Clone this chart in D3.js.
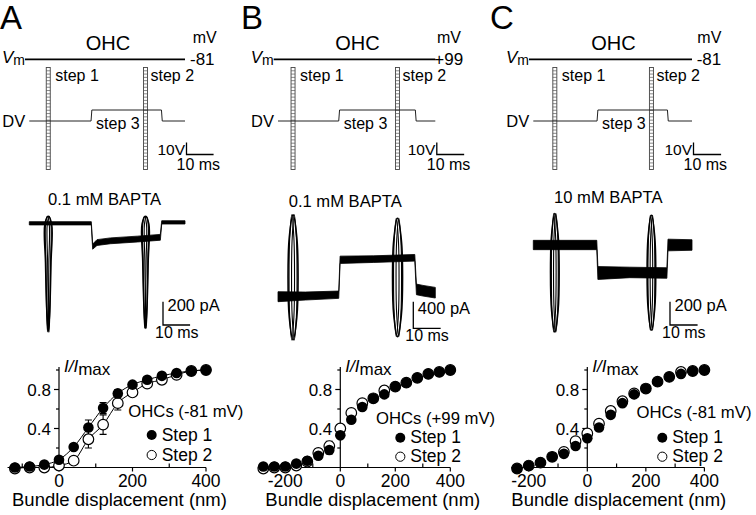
<!DOCTYPE html>
<html>
<head>
<meta charset="utf-8">
<script src="https://cdn.jsdelivr.net/npm/d3@7"></script>
<style>
  body { margin: 0; background: #fff; }
  svg { font-family: "Liberation Sans", Arial, sans-serif; }
</style>
</head>
<body>
<svg id="fig" width="756" height="515"></svg>
<script>
// ---- labels
const panelLetters = ['A', 'B', 'C'];
const holdingLabels = ['-81', '+99', '-81'];
const baptaLabels = ['0.1 mM BAPTA', '0.1 mM BAPTA', '10 mM BAPTA'];
const legendTitles = ['OHCs (-81 mV)', 'OHCs (+99 mV)', 'OHCs (-81 mV)'];
const seriesNames = ['Step 1', 'Step 2'];

// ---- protocol timing (ms): stimulus families and the step 3 pulse
const stimTimes = [[7.0, 42.9], [5.5, 43.7], [7.8, 42.8]];
const step3Times = [[22.8, 48.8], [22.2, 50.2], [23.1, 48.6]];
const sweepEnd = 57.5;

// ---- current traces: [ms, pA, noise half-band pA]
const traceA = [[0, 0, 14], [22.9, 0, 14], [23.4, -200, 22], [25, -165, 25], [30, -150, 25],
  [40, -135, 25], [48.4, -120, 25], [48.9, 8, 14], [57.5, 8, 14]];
const traceB = [[0, 0, 75], [10, 10, 60], [22.2, 30, 55], [22.7, 555, 55], [35, 565, 50],
  [50, 585, 50], [50.6, 110, 80], [53, 90, 80], [57.5, 60, 80]];
const traceC = [[0, 0, 40], [23.0, 0, 40], [23.4, -240, 55], [35, -235, 45], [48.4, -240, 45],
  [48.8, 0, 50], [57.5, 0, 45]];
// transients at step 1 / step 2: [peak pA, trough pA]
const transA = [[60, -930], [60, -900]];
const transB = [[1230, -650], [1180, -600]];
const transC = [[270, -745], [255, -730]];
const pABar = [200, 400, 200];

// ---- activation curves, I/Imax vs bundle displacement (nm)
const dispA = [-120, -80, -40, 0, 40, 80, 120, 160, 200, 240, 280, 320, 360, 400];
const step1A = [0.00, 0.01, 0.03, 0.08, 0.21, 0.41, 0.61, 0.76, 0.85, 0.90, 0.94, 0.97, 0.99, 1.00];
const step2A = [-0.01, 0.00, 0.00, 0.02, 0.07, 0.29, 0.44, 0.66, 0.77, 0.86, 0.90, 0.95, 0.99, 1.00];
const err1A = [0, 0, 0, 0.01, 0.02, 0.077, 0.055, 0.04, 0.02, 0.02, 0.01, 0.01, 0.01, 0.01];
const err2A = [0, 0, 0, 0.01, 0.02, 0.09, 0.10, 0.07, 0.04, 0.02, 0.02, 0.01, 0.01, 0.01];

const dispB = [-280, -240, -200, -160, -120, -80, -40, 0, 40, 80, 120, 160, 200, 240, 280, 320, 360, 400];
const step1B = [0.01, 0.01, 0.01, 0.04, 0.07, 0.12, 0.18, 0.33, 0.49, 0.62, 0.71, 0.75, 0.83, 0.87, 0.92, 0.96, 0.98, 1.00];
const step2B = [-0.01, 0.00, 0.00, 0.02, 0.06, 0.15, 0.22, 0.40, 0.56, 0.66, 0.71, 0.79, 0.83, 0.87, 0.92, 0.96, 0.98, 1.00];
const err1B = [0, 0, 0, 0, 0, 0.03, 0.04, 0, 0, 0, 0, 0, 0, 0, 0, 0, 0, 0];
const err2B = [0, 0, 0, 0, 0, 0.04, 0.05, 0, 0, 0, 0, 0, 0, 0, 0, 0, 0, 0];

const dispC = [-240, -200, -160, -120, -80, -40, 0, 40, 80, 120, 160, 200, 240, 280, 320, 360, 400];
const step1C = [-0.01, 0.02, 0.05, 0.11, 0.14, 0.22, 0.30, 0.41, 0.54, 0.66, 0.75, 0.81, 0.88, 0.93, 0.96, 0.99, 1.00];
const step2C = [-0.01, 0.02, 0.05, 0.11, 0.16, 0.27, 0.35, 0.45, 0.58, 0.68, 0.76, 0.81, 0.88, 0.93, 0.98, 0.99, 1.00];

const xTickLabels = [[0, 200, 400], [-200, 0, 200, 400], [-200, 0, 200, 400]];
const xTickMinor = [-100, 100, 300];
const yTickLabels = [0.4, 0.8];
const yTickMinor = [0.2, 0.6, 1.0];

// ---- layout per panel (pixels)
const layout = [
  { letterX: 0, t0: 29.3, t1: 185, mvDx: 7.7, holdDx: 5, traceY0: 223.3, pxPerPA: 0.1167, barBottom: 325,
    titleX: 48, titleY: 205, hanging: true, hw: 3.4,
    x0: 59, x400: 206, axisFrom: -140, legX: 128.3, legY: 416.7, markX: 151.7, rowY: [435, 455], axTitleX: 12 },
  { letterX: 241, t0: 278, t1: 435.3, mvDx: 1.7, holdDx: -1, traceY0: 296.7, pxPerPA: 0.0665, barBottom: 328.3,
    titleX: 288.7, titleY: 206.7, hanging: false, hw: 5,
    x0: 340.3, x400: 450.3, axisFrom: -300, legX: 376, legY: 424, markX: 400.3, rowY: [437.7, 456.7], axTitleX: 265.3 },
  { letterX: 490, t0: 533.3, t1: 692, mvDx: 5.3, holdDx: 4.7, traceY0: 245, pxPerPA: 0.1167, barBottom: 325,
    titleX: 554, titleY: 202.7, hanging: false, hw: 4.3,
    x0: 587.3, x400: 704.4, axisFrom: -260, legX: 636.5, legY: 418.3, markX: 662.3, rowY: [437.7, 456.7], axTitleX: 511.3 }
];

const traces = [traceA, traceB, traceC];
const transients = [transA, transB, transC];
const disps = [dispA, dispB, dispC];
const step1 = [step1A, step1B, step1C];
const step2 = [step2A, step2B, step2C];
const err1 = [err1A, err1B, null];
const err2 = [err2A, err2B, null];

const svg = d3.select('#fig');
const vmY = 59.3, dvY = d3.scaleLinear().domain([0, 1]).range([121, 110]);
const ladderTop = 67.5, ladderBot = 169.5;
const yI = d3.scaleLinear().domain([0, 1]).range([467.5, 370]);

function txt(g, x, y, s, size, anchor) {
  return g.append('text').attr('x', x).attr('y', y).attr('font-size', size)
    .attr('text-anchor', anchor || 'start').text(s);
}

function ladder(g, x) {
  const n = 31;
  const step = (ladderBot - ladderTop) / n;
  g.append('rect').attr('x', x - 2).attr('y', ladderTop).attr('width', 4)
    .attr('height', ladderBot - ladderTop).attr('fill', '#fff')
    .attr('stroke', '#444').attr('stroke-width', 0.9);
  g.selectAll(null).data(d3.range(1, n)).enter().append('line')
    .attr('x1', x - 2).attr('x2', x + 2)
    .attr('y1', k => ladderTop + k * step).attr('y2', k => ladderTop + k * step)
    .attr('stroke', '#555').attr('stroke-width', 0.7);
}

function transient(g, x, yTop, yBot, hw, hanging) {
  const h = yBot - yTop;
  const prof = hanging
    ? [[0, 0], [1, 0.07], [0.8, 0.4], [0.45, 0.8], [0, 1]]
    : [[0, 0], [0.75, 0.18], [1, 0.5], [0.75, 0.82], [0, 1]];
  const outline = (w, dx) => {
    const right = prof.map(p => [x + dx + p[0] * w, yTop + p[1] * h]);
    const left = prof.slice(1, -1).reverse().map(p => [x + dx - p[0] * w, yTop + p[1] * h]);
    return right.concat(left);
  };
  const line = d3.line().curve(d3.curveCatmullRomClosed.alpha(0.5));
  g.append('path').attr('d', line(outline(hw, 0)))
    .attr('fill', '#fff').attr('stroke', '#000').attr('stroke-width', 1.6);
  g.append('path').attr('d', line(outline(hw * 0.55, -hw * 0.25)))
    .attr('fill', 'none').attr('stroke', '#000').attr('stroke-width', 1.1);
  g.append('path').attr('d', line(outline(hw * 0.55, hw * 0.25)))
    .attr('fill', 'none').attr('stroke', '#000').attr('stroke-width', 1.1);
}

layout.forEach((L, i) => {
  const g = svg.append('g');
  const t = d3.scaleLinear().domain([0, sweepEnd]).range([L.t0, L.t1]);
  const msPx = t(10) - t(0);

  // --- panel letter
  txt(g, L.letterX, 29, panelLetters[i], 33);

  // --- protocol schematic
  const lineStart = L.t0 - 4.3;
  g.append('line').attr('x1', lineStart).attr('x2', L.t1).attr('y1', vmY).attr('y2', vmY)
    .attr('stroke', '#000').attr('stroke-width', 1.8);
  const vm = g.append('text').attr('x', lineStart - 23).attr('y', 63.3).attr('font-size', 17);
  vm.append('tspan').attr('font-style', 'italic').text('V');
  vm.append('tspan').attr('font-size', 14).attr('dy', 2).text('m');
  txt(g, (lineStart + L.t1) / 2 + 3, 50, 'OHC', 20, 'middle');
  txt(g, L.t1 + L.mvDx, 43, 'mV', 16);
  txt(g, L.t1 + L.holdDx, 64.5, holdingLabels[i], 17);

  const on = step3Times[i][0], off = step3Times[i][1];
  const dv = [[0, 0], [on, 0], [on + 0.3, 1], [off, 1], [off + 0.3, 0], [sweepEnd, 0]];
  txt(g, L.t0 - 27, 126.5, 'DV', 16.5);
  stimTimes[i].forEach(s => ladder(g, t(s)));
  g.append('path').attr('d', d3.line().x(d => t(d[0])).y(d => dvY(d[1]))(dv))
    .attr('fill', 'none').attr('stroke', '#222').attr('stroke-width', 1);
  txt(g, t(stimTimes[i][0]) + 7, 81, 'step 1', 16);
  txt(g, t(stimTimes[i][1]) + 5, 81, 'step 2', 16);
  txt(g, t(on) + 5, 128.5, 'step 3', 16);

  const sbx = L.t1 + 1.5;
  g.append('path').attr('d', `M${sbx},142.5V154.5H${sbx + msPx}`)
    .attr('fill', 'none').attr('stroke', '#000').attr('stroke-width', 1.3);
  txt(g, sbx - 1.5, 154.5, '10V', 15.5, 'end');
  txt(g, sbx - 10, 169.5, '10 ms', 16);

  // --- current trace
  const yP = d3.scaleLinear().domain([0, 100]).range([L.traceY0, L.traceY0 - 100 * L.pxPerPA]);
  txt(g, L.titleX, L.titleY, baptaLabels[i], 16.6);
  transients[i].forEach((tr, k) => {
    transient(g, t(stimTimes[i][k]), yP(tr[0]), yP(tr[1]), L.hw, L.hanging);
  });
  g.append('path')
    .attr('d', d3.area().x(d => t(d[0])).y0(d => yP(d[1] - d[2])).y1(d => yP(d[1] + d[2]))(traces[i]))
    .attr('fill', '#000').attr('stroke', '#000').attr('stroke-width', 0.8);

  const bx = L.t1 - 22;
  const barH = pABar[i] * L.pxPerPA;
  g.append('path').attr('d', `M${bx},${L.barBottom - barH}V${L.barBottom}H${bx + msPx}`)
    .attr('fill', 'none').attr('stroke', '#000').attr('stroke-width', 1.3);
  txt(g, bx + 4.5, L.barBottom - 14, pABar[i] + ' pA', 16.5);
  txt(g, bx - 8, L.barBottom + 12.5, '10 ms', 16);

  // --- I/Imax plot
  const xs = d3.scaleLinear().domain([0, 400]).range([L.x0, L.x400]);
  const ax = g.append('g').attr('stroke', '#000').attr('stroke-width', 1.2);
  ax.append('line').attr('x1', xs(L.axisFrom)).attr('x2', xs(400)).attr('y1', yI(0)).attr('y2', yI(0));
  ax.append('line').attr('x1', xs(0)).attr('x2', xs(0)).attr('y1', yI(0)).attr('y2', yI(1.03));
  ax.selectAll(null).data(yTickLabels).enter().append('line')
    .attr('x1', xs(0) - 5).attr('x2', xs(0)).attr('y1', d => yI(d)).attr('y2', d => yI(d));
  ax.selectAll(null).data(yTickMinor).enter().append('line')
    .attr('x1', xs(0) - 3).attr('x2', xs(0)).attr('y1', d => yI(d)).attr('y2', d => yI(d));
  ax.selectAll(null).data(xTickLabels[i]).enter().append('line')
    .attr('x1', d => xs(d)).attr('x2', d => xs(d)).attr('y1', yI(0)).attr('y2', yI(0) + 4);
  ax.selectAll(null).data(xTickMinor.filter(d => d > L.axisFrom)).enter().append('line')
    .attr('x1', d => xs(d)).attr('x2', d => xs(d)).attr('y1', yI(0)).attr('y2', yI(0) - 4);

  yTickLabels.forEach(v => txt(g, xs(0) - 8, yI(v) + 6, d3.format('.1f')(v), 17, 'end'));
  xTickLabels[i].forEach(v => txt(g, xs(v), 486.7, String(v), 17.5, 'middle'));
  txt(g, L.axTitleX, 506, 'Bundle displacement (nm)', 18.5);
  const yl = g.append('text').attr('x', xs(0) + 5).attr('y', 371.5).attr('font-size', 17);
  yl.append('tspan').attr('font-style', 'italic').text('I/I');
  yl.append('tspan').attr('dy', 3).text('max');

  const pts1 = disps[i].map((d, k) => [d, step1[i][k]]);
  const pts2 = disps[i].map((d, k) => [d, step2[i][k]]);

  if (i === 0) {
    const fit = d3.line().x(d => xs(d[0])).y(d => yI(d[1])).curve(d3.curveMonotoneX);
    [pts1, pts2].forEach(p => g.append('path').attr('d', fit(p))
      .attr('fill', 'none').attr('stroke', '#000').attr('stroke-width', 1));
  }

  [[pts2, err2[i]], [pts1, err1[i]]].forEach(([p, e]) => {
    if (!e) return;
    p.forEach((d, k) => {
      if (!e[k]) return;
      const x = xs(d[0]);
      g.append('path')
        .attr('d', `M${x},${yI(d[1] - e[k])}V${yI(d[1] + e[k])}M${x - 3.5},${yI(d[1] - e[k])}H${x + 3.5}M${x - 3.5},${yI(d[1] + e[k])}H${x + 3.5}`)
        .attr('fill', 'none').attr('stroke', '#000').attr('stroke-width', 1.1);
    });
  });

  g.selectAll(null).data(pts2).enter().append('circle')
    .attr('cx', d => xs(d[0])).attr('cy', d => yI(d[1])).attr('r', 5.3)
    .attr('fill', '#fff').attr('stroke', '#000').attr('stroke-width', 1.2);
  g.selectAll(null).data(pts1).enter().append('circle')
    .attr('cx', d => xs(d[0])).attr('cy', d => yI(d[1])).attr('r', 5.3)
    .attr('fill', '#000');

  // --- legend
  txt(g, L.legX, L.legY, legendTitles[i], 16.7);
  g.append('circle').attr('cx', L.markX).attr('cy', L.rowY[0]).attr('r', 5).attr('fill', '#000');
  g.append('circle').attr('cx', L.markX).attr('cy', L.rowY[1]).attr('r', 4.6)
    .attr('fill', '#fff').attr('stroke', '#000').attr('stroke-width', 1);
  seriesNames.forEach((s, k) => txt(g, L.markX + 10, L.rowY[k] + 5.5, s, 17.5));
});
</script>
</body>
</html>
